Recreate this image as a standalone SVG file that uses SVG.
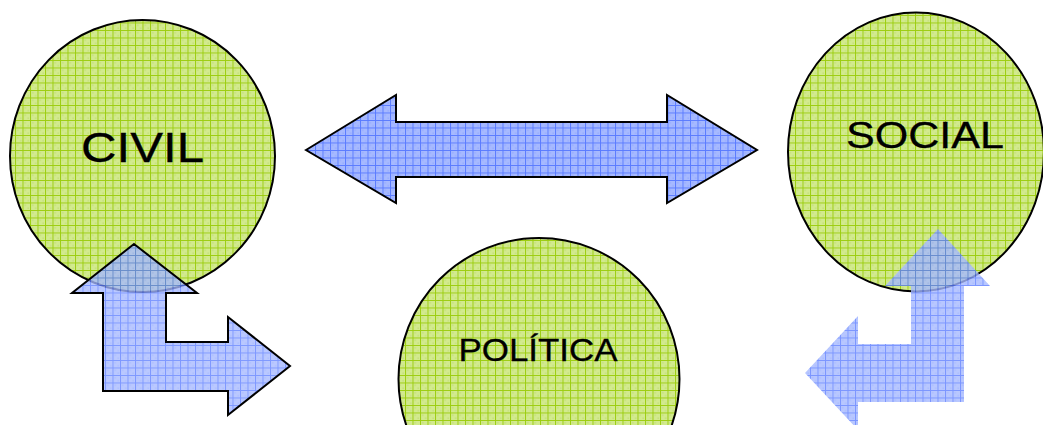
<svg xmlns="http://www.w3.org/2000/svg" width="1043" height="425" viewBox="0 0 1043 425">
<defs>
<pattern id="gridGreen" patternUnits="userSpaceOnUse" width="7.5" height="7.5">
<rect width="7.5" height="7.5" fill="#d2ea8e"/>
<rect x="2" y="2" width="1.5" height="1.5" fill="#c4e07a"/>
<rect x="5" y="5" width="1.5" height="1.5" fill="#c4e07a"/>
<path d="M0.5 0V7.5M0 0.5H7.5" stroke="#9ccd10" stroke-width="1"/>
</pattern>
<pattern id="gridBlue" patternUnits="userSpaceOnUse" width="7.5" height="7.5">
<rect width="7.5" height="7.5" fill="#a6b9ff"/>
<rect x="2" y="2" width="1.5" height="1.5" fill="#96acff"/>
<rect x="5" y="5" width="1.5" height="1.5" fill="#96acff"/>
<path d="M0.5 0V7.5M0 0.5H7.5" stroke="#5a7bff" stroke-width="1"/>
</pattern>
</defs>
<style>
.node{fill:url(#gridGreen);stroke:#000;stroke-width:2}
.lbl{font-family:"Liberation Sans",Arial,sans-serif;fill:#000;stroke:#000;stroke-width:0.3}
.arrow{fill:url(#gridBlue);stroke:#000;stroke-width:2;stroke-linejoin:miter}
</style>
<g id="civil">
<ellipse class="node" cx="142.5" cy="156" rx="132.5" ry="136"/>
<text class="lbl" x="81" y="161.5" font-size="42" textLength="123" lengthAdjust="spacingAndGlyphs">CIVIL</text>
</g>
<g id="social">
<ellipse class="node" cx="916" cy="152" rx="128" ry="139.5"/>
<text class="lbl" x="846" y="148" font-size="36.5" textLength="158" lengthAdjust="spacingAndGlyphs">SOCIAL</text>
</g>
<g id="politica">
<ellipse class="node" cx="539" cy="379" rx="140.5" ry="141"/>
<text class="lbl" x="458.5" y="360.5" font-size="31" textLength="159" lengthAdjust="spacingAndGlyphs">POLÍTICA</text>
</g>
<g id="connectors">
<polygon class="arrow" points="306,150 396,95 396,122 667,122 667,95 757,150 667,203 667,177 396,177 396,203"/>
<polygon class="arrow" fill-opacity="0.78" points="134,244 197,293 166,293 166,342 228,342 228,317 290,366 228,415 228,391 103,391 103,293 72,293"/>
<polygon class="arrow" style="stroke:none" fill-opacity="0.8" points="938,229 990,286 964,286 964,402 858,402 858,430 805,373 858,316 858,344 911,344 911,286 885,286"/>
</g>
</svg>
